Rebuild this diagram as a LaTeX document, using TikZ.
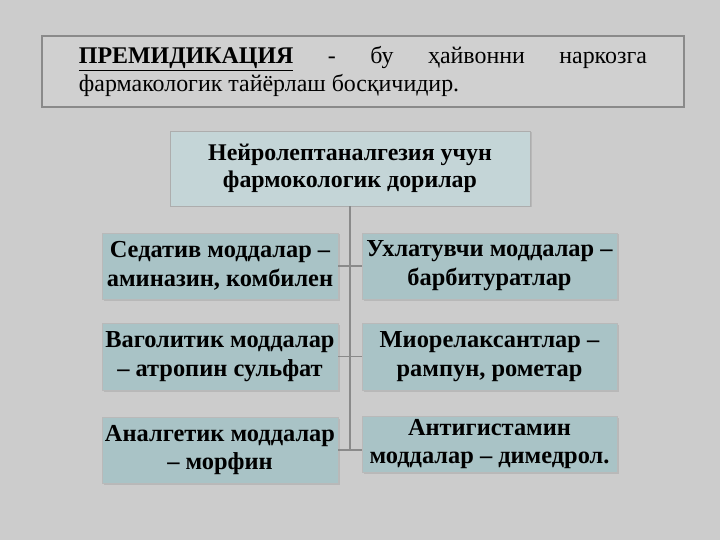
\documentclass[tikz,border=0pt]{standalone}
\usepackage{fontspec}
\setmainfont{Liberation Serif}
\usepackage{tikz}
\usetikzlibrary{shadows}
\definecolor{slidebg}{HTML}{CCCCCC}
\definecolor{headfill}{HTML}{C4D5D7}
\definecolor{itemfill}{HTML}{A9C3C6}
\definecolor{rimgray}{HTML}{8A8A8A}

\begin{document}
\begin{tikzpicture}[
				x=1bp, y=-1bp,
				defn/.style={draw=rimgray, line width=1.5bp, fill=slidebg!92!white, minimum width=642bp, minimum height=71bp, text width=568bp, align=justify, font=\fontsize{24}{28}\selectfont, inner sep=0pt},
				head/.style={draw=rimgray!70, fill=headfill, minimum width=360bp, minimum height=75bp, align=center, font=\fontsize{24}{27}\selectfont\bfseries, drop shadow={opacity=0.25, shadow xshift=1.5bp, shadow yshift=-1.5bp}},
				item/.style={draw=rimgray!60, fill=itemfill, minimum height=66bp, align=center, font=\fontsize{24.5}{29}\selectfont\bfseries, inner sep=0pt, drop shadow={opacity=0.25, shadow xshift=1.5bp, shadow yshift=-1.5bp}},
				link/.style={draw=rimgray, line width=1.3bp}
				]
				
				\fill[slidebg] (0,0) rectangle (720,540);
				\useasboundingbox (0,0) rectangle (720,540);
				
				\node (defn) at (363,71.5) [defn] {\underline{\textbf{ПРЕМИДИКАЦИЯ}} \hfill - \hfill бу \hfill ҳайвонни \hfill наркозга\\ фармакологик тайёрлаш босқичидир.};
				\node (head) at (350,168.5) [head] {Нейролептаналгезия учун\\ фармокологик дорилар};
				\node (l1) at (220,266) [item, minimum width=236bp] {Седатив моддалар --\\ аминазин, комбилен};
				\node (l2) at (220,356.5) [item, minimum width=236bp, minimum height=67bp] {Ваголитик моддалар\\ -- атропин сульфат};
				\node (l3) at (220,450) [item, minimum width=236bp] {Аналгетик моддалар\\ -- морфин};
				\node (r1) at (489.5,266) [item, minimum width=255bp] {Ухлатувчи моддалар --\\ барбитуратлар};
				\node (r2) at (489.5,356.5) [item, minimum width=255bp, minimum height=67bp] {Миорелаксантлар --\\ рампун, рометар};
				\node (r3) at (489.5,444) [item, minimum width=255bp, minimum height=56bp] {Антигистамин\\ моддалар -- димедрол.};
				
				\draw[link] (head.south) -- (head.south |- l3.east);
				\draw[link] (l1.east) -- (r1.west);
				\draw[link] (l2.east) -- (r2.west);
				\draw[link] (l3.east) -- (l3.east -| r3.west);
			\end{tikzpicture}
\end{document}
